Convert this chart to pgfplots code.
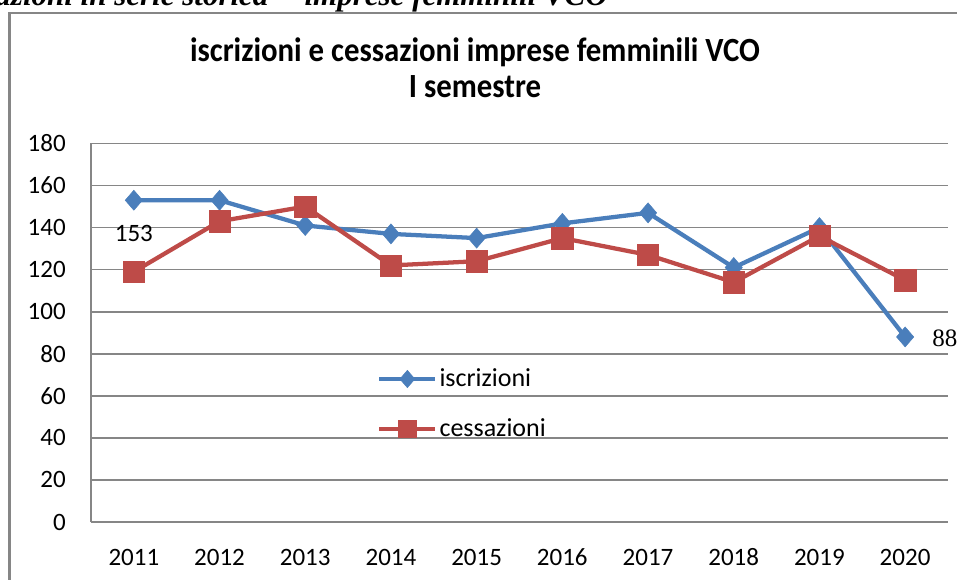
\documentclass[border=0pt]{standalone}
\usepackage{fontspec}
\setmainfont{Carlito}
\newfontfamily\tnr{Liberation Serif}
\usepackage{pgfplots}
\usepackage{pgfplotstable}
\pgfplotsset{compat=1.18}
\definecolor{blu}{HTML}{4A7EBB}
\definecolor{rosso}{HTML}{BE4B48}
\definecolor{griglia}{HTML}{868686}
\pgfplotstableread{
anno isc ces
2011 153 119
2012 153 143
2013 141 150
2014 137 122
2015 135 124
2016 142 135
2017 147 127
2018 121 114
2019 140 136
2020 88 115
}\dati
\begin{document}
\begin{tikzpicture}
\path[use as bounding box] (0,0) rectangle (717.75pt,434.25pt);
\clip (0,0) rectangle (717.75pt,434.25pt);
\node[anchor=base east, inner sep=0pt, font=\tnr\bfseries\itshape\fontsize{23.25}{28}\selectfont] at (456pt,429.75pt) {Iscrizioni e cessazioni in serie storica -- imprese femminili VCO};
\draw[griglia, line width=2pt] (7.1pt,-10pt) |- (740pt,424.5pt);
\node[anchor=base, inner sep=0pt, font=\bfseries\fontsize{23.1}{27}\selectfont] at (356.25pt,387.75pt) {\scalebox{1}[1.1]{iscrizioni e cessazioni imprese femminili VCO}};
\node[anchor=base, inner sep=0pt, font=\bfseries\fontsize{23.1}{27}\selectfont] at (356.25pt,360.75pt) {\scalebox{1}[1.1]{I semestre}};
\begin{axis}[
  at={(68.25pt,42.75pt)}, anchor=south west, scale only axis,
  width=642.75pt, height=283.9pt,
  xmin=2010.5, xmax=2020.5, ymin=0, ymax=180,
  xtick={2011,2012,...,2020}, ytick={0,20,...,180},
  /pgf/number format/set thousands separator={},
  /pgf/number format/assume math mode=true,
  axis x line*=bottom, axis y line*=left,
  axis line style={griglia, line width=1.2pt, -},
  major tick length=0pt,
  ymajorgrids, grid style={griglia, line width=1.2pt},
  tick label style={font=\fontsize{18.75}{22}\selectfont},
  yticklabel style={anchor=east, inner sep=0pt, xshift=-18.75pt},
  xticklabel style={anchor=base, inner sep=0pt, yshift=-32.25pt},
  clip=false,
  legend style={draw=none, fill=none, at={(0.3337,0.41)}, anchor=north west, inner sep=0pt, row sep=19.5pt, font=\fontsize{19.5}{23}\selectfont, nodes={inner sep=1.5pt, anchor=west}},
  legend cell align=left,
  legend image code/.code={\draw[#1, mark size=6.5pt, mark repeat=2, mark phase=2] plot coordinates {(0pt,0pt)(21pt,0pt)(42pt,0pt)};},
]
\addplot[blu, line width=3.2pt, mark=diamond*, mark size=7.5pt, mark options={solid, line width=0.4pt, xscale=1.15}] table[x=anno,y=isc]{\dati};
\addplot[rosso, line width=3.2pt, mark=square*, mark size=8pt, mark options={solid, line width=0.4pt}] table[x=anno,y=ces]{\dati};
\legend{iscrizioni, cessazioni}
\node[anchor=base, inner sep=0pt, font=\fontsize{18.75}{22}\selectfont] at (axis cs:2011,153) [yshift=-30.75pt] {153};
\node[anchor=base west, inner sep=0pt, font=\tnr\fontsize{18.75}{22}\selectfont] at (axis cs:2020,88) [xshift=20.25pt, yshift=-7.5pt] {88};
\end{axis}
\end{tikzpicture}
\end{document}
